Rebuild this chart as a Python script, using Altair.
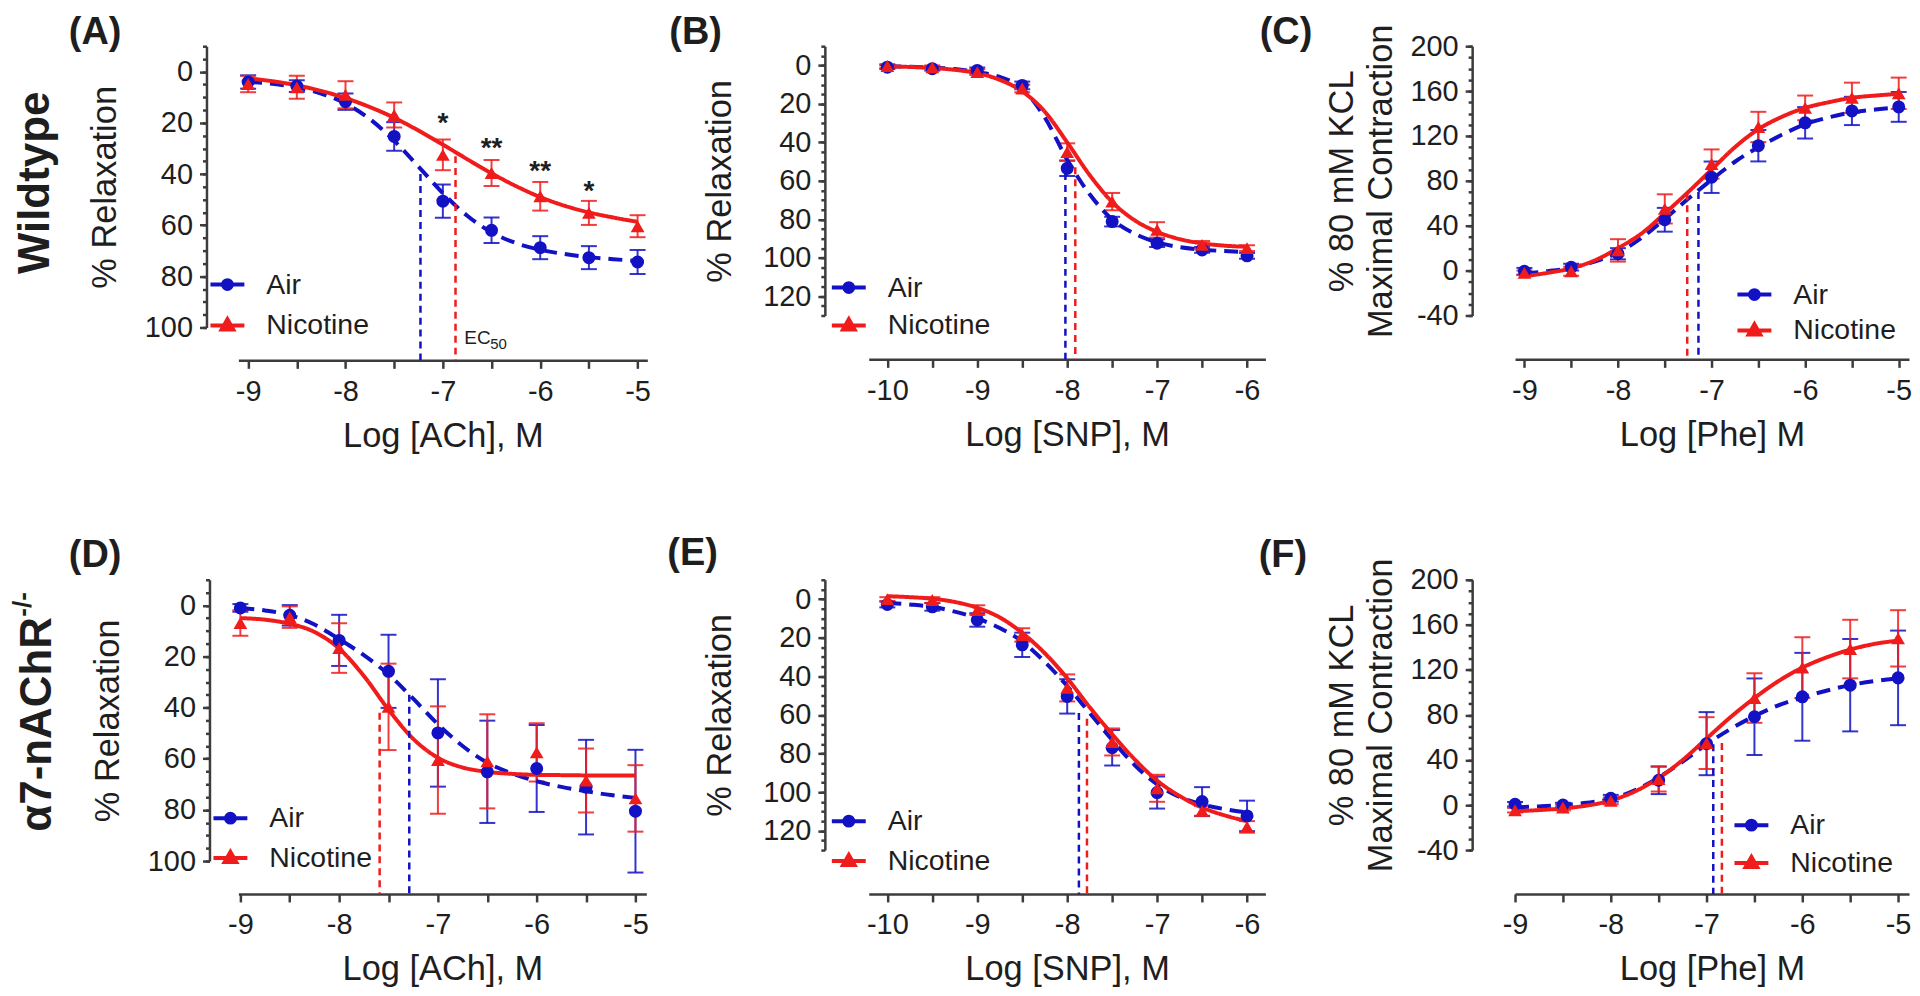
import altair as alt
import pandas as pd

FONT = "Liberation Sans"
BLUE = "#1212c4"
RED = "#f01c1c"
INK = "#1e1e1e"
AX = "#3c3c3c"
SERIES = ["Air", "Nicotine"]
SERIES_COLOR = {"Air": BLUE, "Nicotine": RED}
SERIES_SHAPE = {"Air": "circle", "Nicotine": "triangle-up"}
SERIES_DASH = {"Air": [14, 8], "Nicotine": [1, 0]}

# ---------------- concentrations (log M) ----------------
LOG_ACH = [-9, -8.5, -8, -7.5, -7, -6.5, -6, -5.5, -5]
LOG_SNP = [-10, -9.5, -9, -8.5, -8, -7.5, -7, -6.5, -6]
LOG_PHE = [-9, -8.5, -8, -7.5, -7, -6.5, -6, -5.5, -5]
FIT_ACH = [-9, -8.75, -8.5, -8.25, -8, -7.75, -7.5, -7.25, -7, -6.75, -6.5, -6.25, -6, -5.75, -5.5, -5.25, -5]
FIT_SNP = [-10, -9.75, -9.5, -9.25, -9, -8.75, -8.5, -8.25, -8, -7.75, -7.5, -7.25, -7, -6.75, -6.5, -6.25, -6]
FIT_PHE = FIT_ACH
XTICK_ACH = [-9, -8.5, -8, -7.5, -7, -6.5, -6, -5.5, -5]
XTICK_SNP = [-10, -9.5, -9, -8.5, -8, -7.5, -7, -6.5, -6]

Y_REL_MAJOR = [0, 20, 40, 60, 80, 100]
Y_REL_MINOR = [-10, -5, 0, 5, 10, 15, 20, 25, 30, 35, 40, 45, 50, 55, 60, 65, 70, 75, 80, 85, 90, 95, 100]
Y_SNP_MAJOR = [0, 20, 40, 60, 80, 100, 120]
Y_SNP_MINOR = [-10, -5, 0, 5, 10, 15, 20, 25, 30, 35, 40, 45, 50, 55, 60, 65, 70, 75, 80, 85, 90, 95, 100,
               105, 110, 115, 120, 125, 130]
Y_PHE_MAJOR = [-40, 0, 40, 80, 120, 160, 200]
Y_PHE_MINOR = [-40, -30, -20, -10, 0, 10, 20, 30, 40, 50, 60, 70, 80, 90, 100, 110, 120, 130, 140, 150,
               160, 170, 180, 190, 200]

# ---------------- (A) Wildtype, ACh ----------------
A_AIR = [4, 5.6, 11.7, 25.3, 50.6, 62, 68.8, 72.7, 74.4]
A_AIR_SEM = [2.6, 2.3, 3.2, 5.6, 6.5, 5, 4.5, 4.5, 4.7]
A_NIC = [4.8, 6.1, 9, 16.9, 32.5, 39.6, 48.7, 55.2, 60.4]
A_NIC_SEM = [3.2, 4.5, 5.3, 4.9, 6, 5.1, 5.6, 4.7, 4.3]
A_FIT_AIR = [4, 4.7, 6.1, 8.5, 12.4, 18.5, 27, 37.1, 47.5, 56.3, 62.8, 67, 69.6, 71.3, 72.5, 73.3, 74]
A_FIT_NIC = [2.6, 3.7, 5.3, 7.5, 10.3, 13.8, 18, 23, 28.5, 34.2, 39.7, 44.7, 49, 52.4, 55, 57, 58.7]
A_EC50 = [-7.23, -6.87]
A_EC50_TOP = [40, 33]
A_STAR_X = [-7, -6.5, -6, -5.5]
A_STAR_Y = [18.2, 27.9, 37, 44.8]
A_STAR_T = ["*", "**", "**", "*"]

# ---------------- (B) Wildtype, SNP ----------------
B_AIR = [0.9, 1.7, 2.6, 10.4, 53.5, 81.2, 92.4, 95.9, 99]
B_AIR_SEM = [1, 1, 1.5, 2, 4, 2.5, 2, 1.5, 1.5]
B_NIC = [0.3, 1, 3.5, 12, 45, 70.8, 85.5, 93.3, 95]
B_NIC_SEM = [1, 1, 1.5, 2, 4.5, 4.5, 4, 2, 1.5]
B_FIT_AIR = [0.5, 0.7, 1.1, 1.9, 3.5, 6, 12, 27, 49, 67, 80, 87.5, 92, 94.5, 95.8, 96.5, 97]
B_FIT_NIC = [0.5, 0.8, 1.3, 2.3, 4.0, 7.5, 13.5, 24, 40, 57, 71, 80.5, 86.5, 90.3, 92.5, 93.7, 94.3]
B_EC50 = [-8.02, -7.91]
B_EC50_TOP = [56, 53]

# ---------------- (C) Wildtype, Phe ----------------
C_AIR = [-0.6, 3, 15, 45.3, 83.2, 111.3, 131.7, 142.3, 145.9]
C_AIR_SEM = [3, 3, 5, 10.6, 14, 14, 14, 12.6, 13.3]
C_NIC = [-2, -0.6, 18, 55, 95, 128, 145, 154, 158]
C_NIC_SEM = [2, 4, 10, 13, 13, 13.5, 11, 13.5, 14]
C_FIT_AIR = [-2.5, -0.5, 2.5, 8, 16, 29, 46, 64, 81, 97, 110, 121, 130.5, 136.5, 141, 143.5, 145.5]
C_FIT_NIC = [-5, -2, 2, 9, 20, 33, 51, 70, 90, 110, 126, 137, 145, 150, 154, 156, 157.5]
C_EC50 = [-7.14, -7.26]
C_EC50_TOP = [70, 69]

# ---------------- (D) a7-nAChR-/-, ACh ----------------
D_AIR = [1, 3.9, 13.7, 25.8, 49.9, 65.1, 63.8, 71.1, 80.5]
D_AIR_SEM = [1.5, 4, 10, 14.3, 21, 20, 17, 18.5, 24]
D_NIC = [6.9, 4.6, 16.7, 39.7, 60.5, 61, 57.5, 68.5, 75.5]
D_NIC_SEM = [5, 4.2, 9.7, 16.9, 21, 18.4, 11.4, 12.5, 13]
D_FIT_AIR = [1, 2, 3.8, 7.5, 13.2, 19.5, 27, 36.5, 46.5, 55, 61.5, 65.7, 68.8, 71, 72.7, 74.2, 75.3]
D_FIT_NIC = [5.0, 5.6, 7.2, 10.4, 16.9, 27.6, 40.8, 52.2, 59.6, 63.4, 65.1, 65.9, 66.3, 66.4, 66.5, 66.5, 66.5]
D_EC50 = [-7.29, -7.59]
D_EC50_TOP = [35, 42]

# ---------------- (E) a7-nAChR-/-, SNP ----------------
E_AIR = [2.8, 4, 10.8, 23.7, 50.4, 77, 100.2, 104.9, 112.3]
E_AIR_SEM = [1.5, 2, 3.5, 6.3, 8.9, 9.2, 8.3, 7.5, 7.9]
E_NIC = [0, 0.5, 5.7, 18.6, 46, 74, 98, 109.7, 118]
E_NIC_SEM = [1, 1.5, 2.5, 3.5, 7, 7, 7, 2.5, 3]
E_FIT_AIR = [2, 2.8, 4, 6.5, 10, 15, 22, 32.5, 45, 59, 73, 86, 96, 102.5, 106.3, 108.8, 110.5]
E_FIT_NIC = [-1.5, -1, -0.2, 1.5, 4.5, 9.5, 17.5, 28, 41, 56, 70, 83, 94, 102, 108, 112, 115]
E_EC50 = [-7.87, -7.78]
E_EC50_TOP = [59, 62]

# ---------------- (F) a7-nAChR-/-, Phe ----------------
F_AIR = [0.7, 0, 6, 22, 54.5, 78.4, 96.1, 106.4, 112.9]
F_AIR_SEM = [2, 2, 3, 12.3, 28, 34, 39, 41, 42]
F_NIC = [-4.6, -2.2, 3.7, 23, 55, 95, 122, 138.5, 148]
F_NIC_SEM = [2, 2.5, 3, 11, 23, 22, 27, 26, 25]
F_FIT_AIR = [-2, -1.2, 0, 2, 5.5, 13, 24.5, 38.5, 54, 67.5, 79, 88.5, 95.5, 101.5, 106.5, 110, 112.5]
F_FIT_NIC = [-5.5, -4.5, -3, -0.5, 4, 12, 24, 40, 59, 78, 95, 110, 122, 131, 138, 143, 146]
F_EC50 = [-6.93, -6.84]
F_EC50_TOP = [54, 55]

# custom legend symbols: a line with a marker on it
SYM_CIRCLE = "M-1,0H1M0.26,0A0.26,0.26,0,1,1,-0.26,0A0.26,0.26,0,1,1,0.26,0Z"
SYM_TRIANGLE = "M-1,0H1M0,-0.36L0.34,0.24L-0.34,0.24Z"


def points_frame(xs, m, sem):
    df = pd.DataFrame({"x": list(xs), "y": list(m), "sem": list(sem)})
    df["lo"] = df["y"] - df["sem"]
    df["hi"] = df["y"] + df["sem"]
    return df


def text_layer(text, x, y, size, angle=0, align="left", weight="bold"):
    kw = dict(font=FONT, fontSize=size, fontWeight=weight, align=align,
              baseline="alphabetic", color=INK)
    if angle:
        kw["angle"] = angle
    return alt.Chart(pd.DataFrame({"t": [text]})).mark_text(**kw).encode(
        x=alt.value(x), y=alt.value(y), text="t:N")


def panel(p):
    if "xr" in p:
        xs = alt.Scale(domain=p["xdom"], range=[0, p["xr"]], nice=False, zero=False)
    else:
        xs = alt.Scale(domain=p["xdom"], nice=False, zero=False)
    ys = alt.Scale(domain=p["ydom"], nice=False, zero=False, reverse=p["rev"])
    col = alt.Scale(domain=SERIES, range=[BLUE, RED])

    x_axis = alt.Axis(values=p["xticks"], labelExpr="datum.value % 1 == 0 ? '' + datum.value : ''",
                      title=p["xtitle"], offset=p["xoff"], tickSize=8, labelPadding=9,
                      titlePadding=13, labelFlush=False, labelOverlap=False, grid=False)
    y_major = alt.Axis(values=p["ymajor"], labelExpr="'' + datum.value", title=p["ytitle"],
                       offset=p["yoff"], tickSize=7, labelPadding=7, titlePadding=p["ytp"],
                       orient="left", labelOverlap=False, grid=False, titleLineHeight=40)
    y_minor = alt.Axis(values=p["yminor"], labels=False, domain=False, tickSize=4,
                       offset=p["yoff"], title=None, orient="left", grid=False)

    def X(f):
        return alt.X(f, scale=xs, axis=x_axis)

    def Y(f, ax=None):
        return alt.Y(f, scale=ys, axis=ax)

    layers = []
    data = {
        "Air": (points_frame(p["x"], p["am"], p["asem"]),
                pd.DataFrame({"x": p["fx"], "y": p["fa"]}),
                pd.DataFrame({"x": [p["ec"][0]], "top": [p["ectop"][0]]})),
        "Nicotine": (points_frame(p["x"], p["nm"], p["nsem"]),
                     pd.DataFrame({"x": p["fx"], "y": p["fn"]}),
                     pd.DataFrame({"x": [p["ec"][1]], "top": [p["ectop"][1]]})),
    }
    # error bars
    for s in SERIES:
        pts = data[s][0]
        c = SERIES_COLOR[s]
        layers.append(alt.Chart(pts).mark_rule(strokeWidth=2, opacity=0.85, color=c).encode(
            x=X("x:Q"), y=Y("lo:Q", y_minor if s == "Air" else None), y2="hi:Q"))
        layers.append(alt.Chart(pts).transform_fold(["lo", "hi"], as_=["end", "v"]).mark_tick(
            orient="horizontal", size=16, thickness=2, opacity=0.85, color=c).encode(
            x=X("x:Q"), y=Y("v:Q")))
    # fitted curves
    for s in SERIES:
        layers.append(alt.Chart(data[s][1]).mark_line(
            strokeWidth=4, interpolate="monotone", color=SERIES_COLOR[s], strokeDash=SERIES_DASH[s]).encode(
            x=X("x:Q"), y=Y("y:Q", y_major if s == "Air" else None)))
    # EC50 drop lines
    for s in SERIES:
        layers.append(alt.Chart(data[s][2]).mark_rule(
            strokeWidth=2.5, strokeDash=[7, 5], color=SERIES_COLOR[s]).encode(
            x=X("x:Q"), y=Y("top:Q"), y2=alt.value(p["h"] + p["xoff"])))
    # means
    for s in SERIES:
        layers.append(alt.Chart(data[s][0]).mark_point(
            filled=True, shape=SERIES_SHAPE[s], size=170 if s == "Air" else 190, opacity=1,
            color=SERIES_COLOR[s]).encode(x=X("x:Q"), y=Y("y:Q")))

    # legend (scale domain is explicit, so the legend layer draws no marks of its own)
    lg = alt.Legend(orient="none", legendX=p["lx"], legendY=p["ly"], title=None, labelFont=FONT,
                    labelFontSize=28.5, labelColor=INK, labelOffset=20, rowPadding=p["rp"], padding=0,
                    symbolStrokeWidth=4, symbolSize=1156, symbolOpacity=1)
    leg = alt.Chart(pd.DataFrame({"series": pd.Series([], dtype="object")})).mark_point(
        filled=True, size=1156, opacity=1, strokeWidth=4).encode(
        fill=alt.Fill("series:N", scale=col, legend=lg),
        stroke=alt.Stroke("series:N", scale=col, legend=lg),
        shape=alt.Shape("series:N", scale=alt.Scale(domain=SERIES, range=[SYM_CIRCLE, SYM_TRIANGLE]),
                        legend=lg))
    layers.append(leg)

    layers.append(text_layer(p["label"], p["labx"], p["laby"], 38))
    for extra in p.get("extra", []):
        kind = extra[0]
        if kind == "row":
            layers.append(text_layer(extra[1], extra[2], extra[3], extra[4], angle=270, align=extra[5]))
        elif kind == "stars":
            sdf = pd.DataFrame({"x": A_STAR_X, "y": A_STAR_Y, "t": A_STAR_T})
            layers.append(alt.Chart(sdf).mark_text(font=FONT, fontSize=28, fontWeight="bold",
                                                   baseline="middle", dy=6, color=INK).encode(
                x=X("x:Q"), y=Y("y:Q"), text="t:N"))
        elif kind == "ec50":
            edf = pd.DataFrame({"x": [extra[1]], "y": [extra[2]], "t": ["EC"], "s": ["50"]})
            layers.append(alt.Chart(edf).mark_text(font=FONT, fontSize=19, align="left",
                                                   baseline="alphabetic", color=INK).encode(
                x=X("x:Q"), y=Y("y:Q"), text="t:N"))
            layers.append(alt.Chart(edf).mark_text(font=FONT, fontSize=15, align="left",
                                                   baseline="alphabetic", dx=26, dy=5, color=INK).encode(
                x=X("x:Q"), y=Y("y:Q"), text="s:N"))

    return alt.layer(*layers).resolve_axis(y="independent").properties(width=p["w"], height=p["h"])


REL = "% Relaxation"
CON = ["% 80 mM KCL", "Maximal Contraction"]

panels = [
    dict(label="(A)", labx=-170, laby=-2, x=LOG_ACH, am=A_AIR, asem=A_AIR_SEM, nm=A_NIC, nsem=A_NIC_SEM,
         fx=FIT_ACH, fa=A_FIT_AIR, fn=A_FIT_NIC, ec=A_EC50, ectop=A_EC50_TOP,
         xdom=[-9.1, -4.9], w=410, ydom=[-10, 100], rev=True, h=282, xoff=33, yoff=32, ytp=22,
         ymajor=Y_REL_MAJOR, yminor=Y_REL_MINOR, xticks=XTICK_ACH, xtitle="Log [ACh], M", ytitle=REL,
         lx=-30, ly=220, rp=7,
         extra=[("row", "Wildtype", -190, 137, 44, "center"), ("stars",), ("ec50", -6.78, 106.5)]),
    dict(label="(B)", labx=-200, laby=-2, x=LOG_SNP, am=B_AIR, asem=B_AIR_SEM, nm=B_NIC, nsem=B_NIC_SEM,
         fx=FIT_SNP, fa=B_FIT_AIR, fn=B_FIT_NIC, ec=B_EC50, ectop=B_EC50_TOP,
         xdom=[-10.207, -5.796], xr=397.7, w=425.6, ydom=[-10, 130], rev=True, h=270, xoff=44, yoff=44,
         ytp=25, ymajor=Y_SNP_MAJOR, yminor=Y_SNP_MINOR, xticks=XTICK_SNP, xtitle="Log [SNP], M",
         ytitle=REL, lx=-39, ly=223, rp=4),
    dict(label="(C)", labx=-256, laby=-2, x=LOG_PHE, am=C_AIR, asem=C_AIR_SEM, nm=C_NIC, nsem=C_NIC_SEM,
         fx=FIT_PHE, fa=C_FIT_AIR, fn=C_FIT_NIC, ec=C_EC50, ectop=C_EC50_TOP,
         xdom=[-9.1, -4.89], w=395, ydom=[-40, 200], rev=False, h=270, xoff=44, yoff=43, ytp=11,
         ymajor=Y_PHE_MAJOR, yminor=Y_PHE_MINOR, xticks=XTICK_ACH, xtitle="Log [Phe] M", ytitle=CON,
         lx=221, ly=230, rp=2),
    dict(label="(D)", labx=-170, laby=-13, x=LOG_ACH, am=D_AIR, asem=D_AIR_SEM, nm=D_NIC, nsem=D_NIC_SEM,
         fx=FIT_ACH, fa=D_FIT_AIR, fn=D_FIT_NIC, ec=D_EC50, ectop=D_EC50_TOP,
         xdom=[-9.02, -4.89], w=409, ydom=[-10, 100], rev=True, h=282, xoff=33, yoff=29, ytp=22,
         ymajor=Y_REL_MAJOR, yminor=Y_REL_MINOR, xticks=XTICK_ACH, xtitle="Log [ACh], M", ytitle=REL,
         lx=-27, ly=220, rp=6,
         extra=[("row", "\u03b17-nAChR", -188, 145, 44, "center"), ("row", "-/-", -208, 37, 26, "left")]),
    dict(label="(E)", labx=-202, laby=-15, x=LOG_SNP, am=E_AIR, asem=E_AIR_SEM, nm=E_NIC, nsem=E_NIC_SEM,
         fx=FIT_SNP, fa=E_FIT_AIR, fn=E_FIT_NIC, ec=E_EC50, ectop=E_EC50_TOP,
         xdom=[-10.207, -5.796], xr=397.7, w=425.6, ydom=[-10, 130], rev=True, h=271, xoff=44, yoff=44,
         ytp=25, ymajor=Y_SNP_MAJOR, yminor=Y_SNP_MINOR, xticks=XTICK_SNP, xtitle="Log [SNP], M",
         ytitle=REL, lx=-39, ly=223, rp=6),
    dict(label="(F)", labx=-257, laby=-13, x=LOG_PHE, am=F_AIR, asem=F_AIR_SEM, nm=F_NIC, nsem=F_NIC_SEM,
         fx=FIT_PHE, fa=F_FIT_AIR, fn=F_FIT_NIC, ec=F_EC50, ectop=F_EC50_TOP,
         xdom=[-9.0, -4.886], w=395, ydom=[-40, 200], rev=False, h=271, xoff=44, yoff=43, ytp=11,
         ymajor=Y_PHE_MAJOR, yminor=Y_PHE_MINOR, xticks=XTICK_ACH, xtitle="Log [Phe] M", ytitle=CON,
         lx=218, ly=227, rp=4),
]

chart = alt.concat(*[panel(p) for p in panels], columns=3,
                   spacing={"row": 253, "column": 222}, bounds="flush", align="each").resolve_scale(
    fill="independent", stroke="independent", shape="independent"
).properties(
    padding={"left": 2, "top": 5, "right": 0, "bottom": 0}, background="white"
).configure_view(stroke=None).configure_axis(
    domainColor=AX, tickColor=AX, domainWidth=2.5, tickWidth=2.5,
    labelFont=FONT, labelFontSize=29, labelColor=INK,
    titleFont=FONT, titleFontSize=34.5, titleFontWeight="normal", titleColor=INK, grid=False)

chart.save("out.html", embed_options={"renderer": "svg", "actions": False})
